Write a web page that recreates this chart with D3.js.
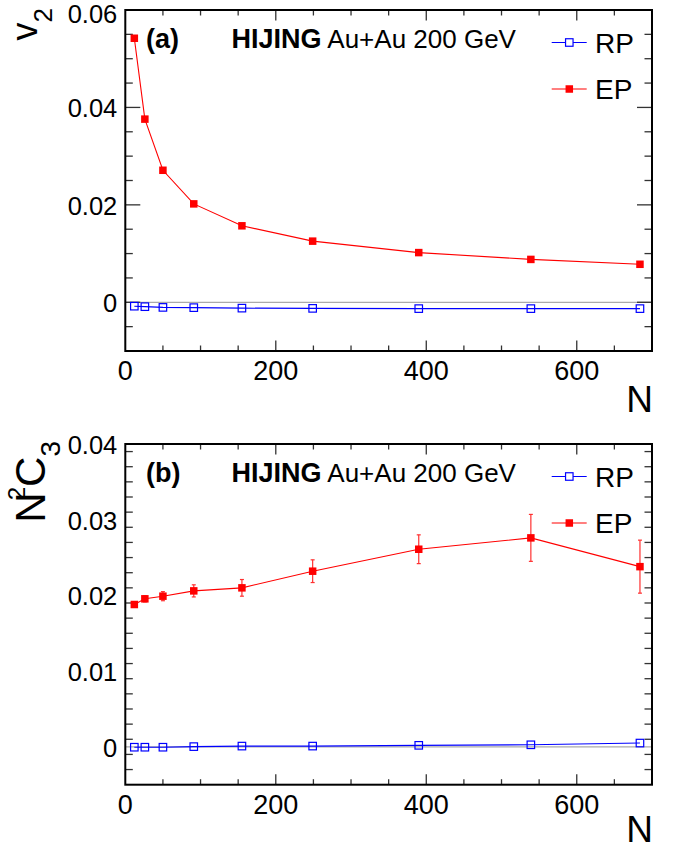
<!DOCTYPE html>
<html>
<head>
<meta charset="utf-8">
<script src="https://cdn.jsdelivr.net/npm/d3@7"></script>
<style>
  body { margin: 0; background: #fff; }
  text { font-family: "Liberation Sans", Arial, Helvetica, sans-serif; fill: #000; }
</style>
</head>
<body>
<svg id="chart" width="678" height="850"></svg>
<script>
// Multiplicity bins (x) shared by both panels
const nValues = [12, 26, 50, 91, 155, 249, 390, 539, 684];

// Panel (a): v2 vs N
const v2RP = [-0.0008, -0.0009, -0.00105, -0.0011, -0.0012, -0.00125, -0.0013, -0.0013, -0.0013];
const v2EP = [0.0542, 0.0376, 0.0271, 0.0202, 0.0157, 0.01255, 0.0102, 0.0088, 0.0078];

// Panel (b): N^2 C3 vs N
const c3RP = [-0.00005, -0.00005, -0.00005, 0.00003, 0.0001, 0.0001, 0.0002, 0.00027, 0.0005];
const c3EP = [0.0188, 0.01955, 0.0199, 0.0206, 0.0210, 0.0232, 0.0261, 0.0276, 0.0238];
const c3EPErr = [0.0003, 0.0004, 0.0006, 0.0008, 0.0011, 0.0015, 0.0019, 0.0031, 0.0035];

// Axis ticks and labels
const xTicks = [0, 200, 400, 600];
const xTickLabels = ["0", "200", "400", "600"];
const v2Ticks = [0, 0.02, 0.04, 0.06];
const v2TickLabels = ["0", "0.02", "0.04", "0.06"];
const c3Ticks = [0, 0.01, 0.02, 0.03, 0.04];
const c3TickLabels = ["0", "0.01", "0.02", "0.03", "0.04"];

const panelTags = ["(a)", "(b)"];
const generatorText = "HIJING";
const systemText = "Au+Au 200 GeV";
const seriesNames = ["RP", "EP"];
const xTitle = "N";

const RED = "#ff0000", BLUE = "#0000ff";
const svg = d3.select("#chart");

const left = 125.3, right = 652;
const x = d3.scaleLinear().domain([0, 700]).range([left, right]);

function drawPanel(cfg) {
  const g = svg.append("g");
  const y = d3.scaleLinear().domain(cfg.yDomain).range([cfg.bottom, cfg.top]);

  // zero reference line
  g.append("line")
    .attr("x1", left).attr("x2", right)
    .attr("y1", y(0)).attr("y2", y(0))
    .attr("stroke", "#aaaaaa").attr("stroke-width", 1.2);

  // ticks (drawn inward on all four sides)
  const tickG = g.append("g").attr("stroke", "#333").attr("stroke-width", 1.3);
  const xMinor = d3.range(50, 700, 50);
  xMinor.forEach(v => {
    const major = v % 200 === 0;
    const len = major ? 10.5 : 5.5;
    tickG.append("line").attr("x1", x(v)).attr("x2", x(v))
      .attr("y1", cfg.bottom).attr("y2", cfg.bottom - len);
    tickG.append("line").attr("x1", x(v)).attr("x2", x(v))
      .attr("y1", cfg.top).attr("y2", cfg.top + len);
  });
  const nMinor = Math.round((cfg.yDomain[1] - cfg.yDomain[0]) / cfg.yMinorStep);
  for (let i = 1; i < nMinor; i++) {
    const v = cfg.yDomain[0] + i * cfg.yMinorStep;
    const major = cfg.yTicks.some(t => Math.abs(t - v) < 1e-9);
    const len = major ? 15 : 7.5;
    tickG.append("line").attr("x1", left).attr("x2", left + len)
      .attr("y1", y(v)).attr("y2", y(v));
    tickG.append("line").attr("x1", right).attr("x2", right - len)
      .attr("y1", y(v)).attr("y2", y(v));
  }

  // frame
  g.append("rect")
    .attr("x", left).attr("y", cfg.top)
    .attr("width", right - left).attr("height", cfg.bottom - cfg.top)
    .attr("fill", "none").attr("stroke", "#000").attr("stroke-width", 2);

  // tick labels
  cfg.yTicks.forEach((t, i) => {
    g.append("text").attr("x", left - 8).attr("y", Math.max(y(t) + 10, 22.8))
      .attr("text-anchor", "end").attr("font-size", 25.5).text(cfg.yTickLabels[i]);
  });
  xTicks.forEach((t, i) => {
    g.append("text").attr("x", x(t)).attr("y", cfg.bottom + 29)
      .attr("text-anchor", "middle").attr("font-size", 27).text(xTickLabels[i]);
  });

  // x title
  g.append("text").attr("x", right + 1).attr("y", Math.min(cfg.bottom + 60.5, 842))
    .attr("text-anchor", "end").attr("font-size", 37).text(xTitle);

  // series lines
  const line = d3.line().x((d, i) => x(nValues[i])).y(d => y(d));
  g.append("path").datum(cfg.ep).attr("d", line)
    .attr("fill", "none").attr("stroke", RED).attr("stroke-width", 1.1);
  g.append("path").datum(cfg.rp).attr("d", line)
    .attr("fill", "none").attr("stroke", BLUE).attr("stroke-width", 1.1);

  // error bars for EP
  if (cfg.epErr) {
    const eg = g.append("g").attr("stroke", "#ff3030").attr("stroke-width", 1.2);
    cfg.ep.forEach((v, i) => {
      const cx = x(nValues[i]);
      const y1 = y(v + cfg.epErr[i]), y2 = y(v - cfg.epErr[i]);
      eg.append("line").attr("x1", cx).attr("x2", cx).attr("y1", y1).attr("y2", y2);
      eg.append("line").attr("x1", cx - 2).attr("x2", cx + 2).attr("y1", y1).attr("y2", y1);
      eg.append("line").attr("x1", cx - 2).attr("x2", cx + 2).attr("y1", y2).attr("y2", y2);
    });
  }

  // markers
  const s = 7.5;
  g.append("g").selectAll("rect").data(cfg.rp).join("rect")
    .attr("x", (d, i) => x(nValues[i]) - s / 2).attr("y", d => y(d) - s / 2)
    .attr("width", s).attr("height", s)
    .attr("fill", "none").attr("stroke", BLUE).attr("stroke-width", 1.2);
  g.append("g").selectAll("rect").data(cfg.ep).join("rect")
    .attr("x", (d, i) => x(nValues[i]) - s / 2).attr("y", d => y(d) - s / 2)
    .attr("width", s).attr("height", s)
    .attr("fill", RED);

  // panel tag and label
  g.append("text").attr("x", 146).attr("y", cfg.top + 38)
    .attr("font-size", 27).attr("font-weight", "bold").text(cfg.tag);
  const lab = g.append("text").attr("x", 231.5).attr("y", cfg.top + 38).attr("font-size", 26);
  lab.append("tspan").attr("font-weight", "bold").attr("font-size", 27).text(generatorText);
  lab.append("tspan").text(" " + systemText);

  // legend
  const legY = [cfg.top + 32.5, cfg.top + 79];
  seriesNames.forEach((name, i) => {
    const col = i === 0 ? BLUE : RED;
    g.append("line").attr("x1", 551.7).attr("x2", 586.7)
      .attr("y1", legY[i]).attr("y2", legY[i])
      .attr("stroke", col).attr("stroke-width", 1.2);
    const r = g.append("rect").attr("x", 569.3 - 3.75).attr("y", legY[i] - 3.75)
      .attr("width", 7.5).attr("height", 7.5);
    if (i === 0) r.attr("fill", "#fff").attr("stroke", col).attr("stroke-width", 1.2);
    else r.attr("fill", col);
    g.append("text").attr("x", 595).attr("y", legY[i] + 10)
      .attr("font-size", 28).text(name);
  });

  return y;
}

drawPanel({
  top: 10, bottom: 351, yDomain: [-0.01, 0.06], yMinorStep: 0.005,
  yTicks: v2Ticks, yTickLabels: v2TickLabels,
  rp: v2RP, ep: v2EP, tag: panelTags[0]
});
drawPanel({
  top: 444, bottom: 784.7, yDomain: [-0.005, 0.04], yMinorStep: 0.002,
  yTicks: c3Ticks, yTickLabels: c3TickLabels,
  rp: c3RP, ep: c3EP, epErr: c3EPErr, tag: panelTags[1]
});

// y titles (rotated)
const t1 = svg.append("text").attr("transform", "translate(37,8) rotate(-90)")
  .attr("text-anchor", "end");
t1.append("tspan").attr("font-size", 36).text("v");
t1.append("tspan").attr("font-size", 26).attr("dy", 15).text("2");

const t2 = svg.append("text").attr("transform", "translate(45,441) rotate(-90)")
  .attr("text-anchor", "end");
t2.append("tspan").attr("font-size", 42).text("N");
t2.append("tspan").attr("font-size", 24).attr("dx", -8).attr("dy", -20).text("2");
t2.append("tspan").attr("font-size", 42).attr("dy", 20).text("C");
t2.append("tspan").attr("font-size", 28).attr("dy", 15).text("3");
</script>
</body>
</html>
